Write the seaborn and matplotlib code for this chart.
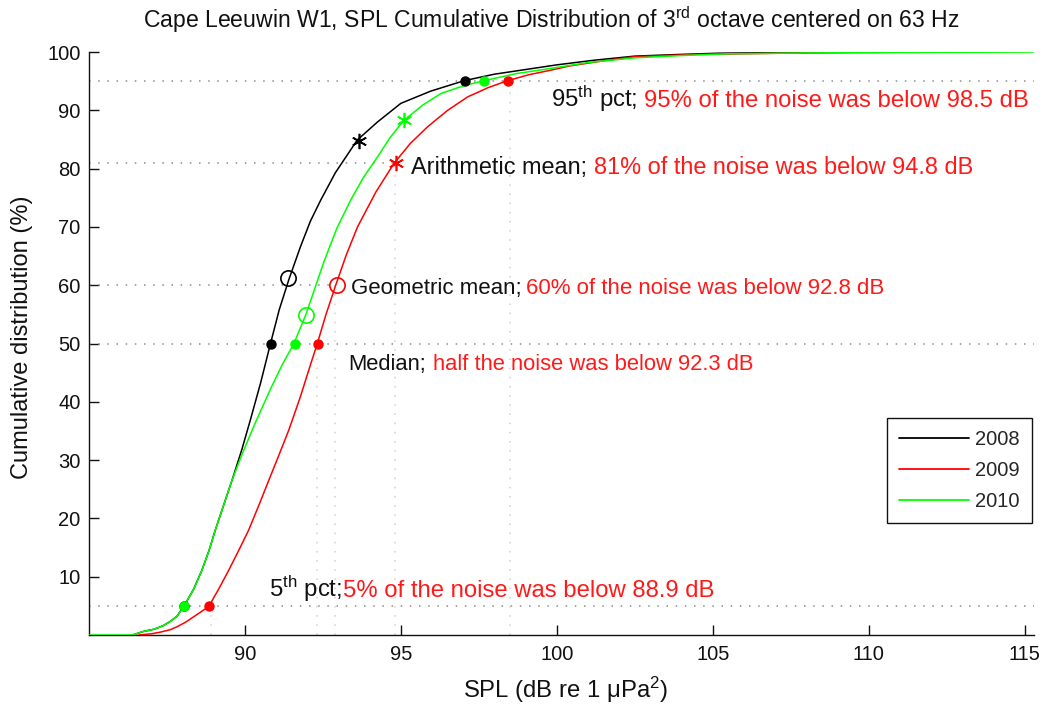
import numpy as np
import pandas as pd
import matplotlib
matplotlib.use("Agg")
import matplotlib.pyplot as plt
import seaborn as sns
from matplotlib.offsetbox import TextArea, HPacker, AnnotationBbox
from matplotlib.lines import Line2D

# ---------------- data ----------------
years = ["2008", "2009", "2010"]
colors = ["#000000", "#ff0000", "#00ff00"]

spl_2008 = [86.4, 86.74, 87.1, 87.38, 87.6, 87.82, 88.05, 88.35, 88.62, 88.85, 89.05,
            89.3, 89.59, 89.9, 90.18, 90.5, 90.82, 91.1, 91.41, 91.78, 92.1, 92.43,
            92.9, 93.6, 94.25, 95.0, 95.96, 97.04, 98.0, 99.0, 100.0, 101.2, 102.5,
            104.0, 105.2, 107.0, 109.7]
cdf_2008 = [0.0, 0.6, 1.0, 1.6, 2.3, 3.2, 5.0, 7.8, 11.1, 14.5, 18.0,
            22.0, 26.6, 31.8, 37.0, 43.2, 50.0, 55.8, 61.0, 66.6, 71.0, 74.6,
            79.3, 84.9, 88.0, 91.2, 93.3, 95.1, 96.2, 97.0, 97.8, 98.6, 99.3,
            99.6, 99.8, 99.9, 100.0]

spl_2009 = [86.6, 87.0, 87.3, 87.6, 87.82, 88.1, 88.35, 88.6, 88.84, 89.15, 89.48,
            89.8, 90.12, 90.45, 90.77, 91.1, 91.41, 91.78, 92.05, 92.32, 92.6, 92.91,
            93.25, 93.61, 94.2, 94.78, 95.3, 95.86, 96.5, 97.14, 97.8, 98.43, 99.1,
            99.82, 100.4, 101.5, 102.5, 104.5, 107.3, 109.5, 111.7]
cdf_2009 = [0.0, 0.2, 0.5, 0.9, 1.4, 2.2, 3.1, 4.0, 4.9, 7.8, 11.1,
            14.5, 18.0, 22.3, 26.6, 31.0, 35.2, 40.9, 45.5, 50.0, 55.0, 60.0,
            65.2, 70.0, 76.0, 80.9, 84.3, 87.2, 90.0, 92.3, 93.9, 95.1, 96.1,
            96.9, 97.6, 98.5, 99.2, 99.6, 99.8, 99.9, 100.0]

spl_2010 = [85.0, 86.4, 86.74, 87.1, 87.38, 87.6, 87.82, 88.05, 88.35, 88.62, 88.85,
            89.05, 89.3, 89.59, 89.9, 90.3, 90.82, 91.2, 91.57, 91.95, 92.25, 92.53,
            92.95, 93.39, 93.8, 94.25, 94.65, 95.1, 95.7, 96.29, 97.0, 97.68, 98.7,
            99.82, 101.0, 102.5, 104.0, 105.5, 108.0, 110.0, 115.3]
cdf_2010 = [0.0, 0.0, 0.6, 1.0, 1.6, 2.3, 3.2, 5.0, 7.8, 11.1, 14.5,
            18.0, 22.0, 26.6, 30.9, 36.0, 42.2, 46.4, 50.0, 54.9, 59.6, 64.0,
            69.8, 74.6, 78.5, 82.0, 85.3, 88.3, 90.9, 92.9, 94.2, 95.1, 96.3,
            97.2, 98.2, 99.0, 99.4, 99.7, 99.85, 99.9, 100.0]

# statistic markers (order: 2008, 2009, 2010)
p5_spl = [88.05, 88.85, 88.05]
median_spl = [90.82, 92.33, 91.60]
geo_spl = [91.37, 92.94, 91.95]
geo_cdf = [61.2, 60.0, 54.9]
arith_spl = [93.65, 94.84, 95.10]
arith_cdf = [84.7, 81.0, 88.3]
p95_spl = [97.06, 98.44, 97.67]

# reference values reported in the annotations (2009)
ref_pct = [95, 81, 60, 50, 5]
ref_spl = [98.5, 94.8, 92.9, 92.3, 88.9]
ref_full = [True, False, False, True, True]

ann_black = ["95$^{\\rm th}$ pct;", "Arithmetic mean;", "Geometric mean;",
             "Median;", "5$^{\\rm th}$ pct;"]
ann_red = ["95% of the noise was below 98.5 dB",
           "81% of the noise was below 94.8 dB",
           "60% of the noise was below 92.8 dB",
           "half the noise was below 92.3 dB",
           "5% of the noise was below 88.9 dB"]
ann_x = [99.82, 95.32, 93.41, 93.32, 90.77]
ann_y = [90.2, 79.2, 58.6, 45.5, 6.2]
ann_sep = [5, 5, 3, 5, 1]
ann_fs = [17.2, 16.9, 16.0, 15.8, 17.2]

title = "Cape Leeuwin W1, SPL Cumulative Distribution of 3$^{\\rm rd}$ octave centered on 63 Hz"
xlabel = "SPL (dB re 1 μPa$^{2}$)"
ylabel = "Cumulative distribution (%)"
xticks = [90, 95, 100, 105, 110, 115]
yticks = [10, 20, 30, 40, 50, 60, 70, 80, 90, 100]

# ---------------- style ----------------
sns.set_theme(style="white")
plt.rcParams["font.family"] = ["Liberation Sans", "DejaVu Sans"]
plt.rcParams["mathtext.fontset"] = "custom"
plt.rcParams["mathtext.rm"] = "Liberation Sans"
plt.rcParams["mathtext.it"] = "Liberation Sans:italic"
plt.rcParams["mathtext.bf"] = "Liberation Sans:bold"

FS_TICK = 14.5

fig = plt.figure(figsize=(10.47, 7.06), dpi=100)
fig.patch.set_facecolor("white")
ax = fig.add_axes([0.085, 0.1006, 0.9026, 0.8257])
ax.set_facecolor("white")

df = pd.concat([
    pd.DataFrame({"spl": spl_2008, "cdf": cdf_2008, "year": "2008"}),
    pd.DataFrame({"spl": spl_2009, "cdf": cdf_2009, "year": "2009"}),
    pd.DataFrame({"spl": spl_2010, "cdf": cdf_2010, "year": "2010"}),
], ignore_index=True)

# reference lines
grid_kw = dict(color="#8c8c8c", lw=1.1, ls=(0, (1, 5)), zorder=1)
vgrid_kw = dict(color="#dccccc", lw=1.1, ls=(0, (1, 5)), zorder=1)
for p, s, full in zip(ref_pct, ref_spl, ref_full):
    ax.plot([85, 115.3 if full else s], [p, p], **grid_kw)
    ax.plot([s, s], [0, p], **vgrid_kw)

sns.lineplot(data=df, x="spl", y="cdf", hue="year", palette=colors,
             estimator=None, sort=False, lw=1.1, legend=False, ax=ax, zorder=3)

for i, c in enumerate(colors):
    ax.plot(p5_spl[i], 5, "o", color=c, ms=6.5, zorder=4)
    ax.plot(median_spl[i], 50, "o", color=c, ms=6.5, zorder=4)
    ax.plot(p95_spl[i], 95, "o", color=c, ms=6.5, zorder=4)
    ax.plot(geo_spl[i], geo_cdf[i], "o", mfc="none", mec=c, ms=11, mew=1.2, zorder=4)
    ax.plot(arith_spl[i], arith_cdf[i], marker=(6, 2, 0), color=c, mec=c,
            ms=11, mew=1.2, ls="none", zorder=4)

# annotations (black + red parts)
for bx, by, tb, tr, sp, fs in zip(ann_x, ann_y, ann_black, ann_red, ann_sep, ann_fs):
    t1 = TextArea(tb, textprops=dict(color="#111111", fontsize=fs))
    t2 = TextArea(tr, textprops=dict(color="#ff1a1a", fontsize=fs))
    box = HPacker(children=[t1, t2], align="baseline", pad=0, sep=sp)
    ab = AnnotationBbox(box, (bx, by - 0.9), xycoords="data", box_alignment=(0, 0),
                        frameon=False, pad=0, zorder=5)
    ax.add_artist(ab)

ax.set_xlim(85, 115.3)
ax.set_ylim(0, 100)
ax.set_xticks(xticks)
ax.set_yticks(yticks)
ax.tick_params(direction="in", length=7, width=1, colors="#111111",
               labelsize=FS_TICK, top=False, right=False, bottom=True, left=True)
ax.tick_params(axis="x", pad=7)
ax.tick_params(axis="y", pad=6)
for side in ["top", "right"]:
    ax.spines[side].set_visible(False)
for side in ["left", "bottom"]:
    ax.spines[side].set_color("#111111")
    ax.spines[side].set_linewidth(1.0)
ax.grid(False)
ax.set_xlabel("")
ax.set_ylabel("")

fig.text(551 / 1047, 1 - 20 / 706, title, ha="center", va="center", fontsize=16.6, color="#111111")
fig.text(565 / 1047, 1 - 690 / 706, xlabel, ha="center", va="center", fontsize=17.2, color="#111111")
fig.text(22 / 1047, 1 - 337 / 706, ylabel, ha="center", va="center", rotation=90,
         fontsize=17.0, color="#111111")

handles = [Line2D([0], [0], color=c, lw=1.3) for c in colors]
leg = ax.legend(handles, years, loc="upper right", bbox_to_anchor=(0.998, 0.373),
                borderaxespad=0, fontsize=FS_TICK, handlelength=3.5, handletextpad=0.3,
                labelspacing=0.6, borderpad=0.6, fancybox=False, framealpha=1,
                edgecolor="#111111")
leg.get_frame().set_linewidth(1.0)

fig.savefig("out.png", dpi=100, facecolor="white")
